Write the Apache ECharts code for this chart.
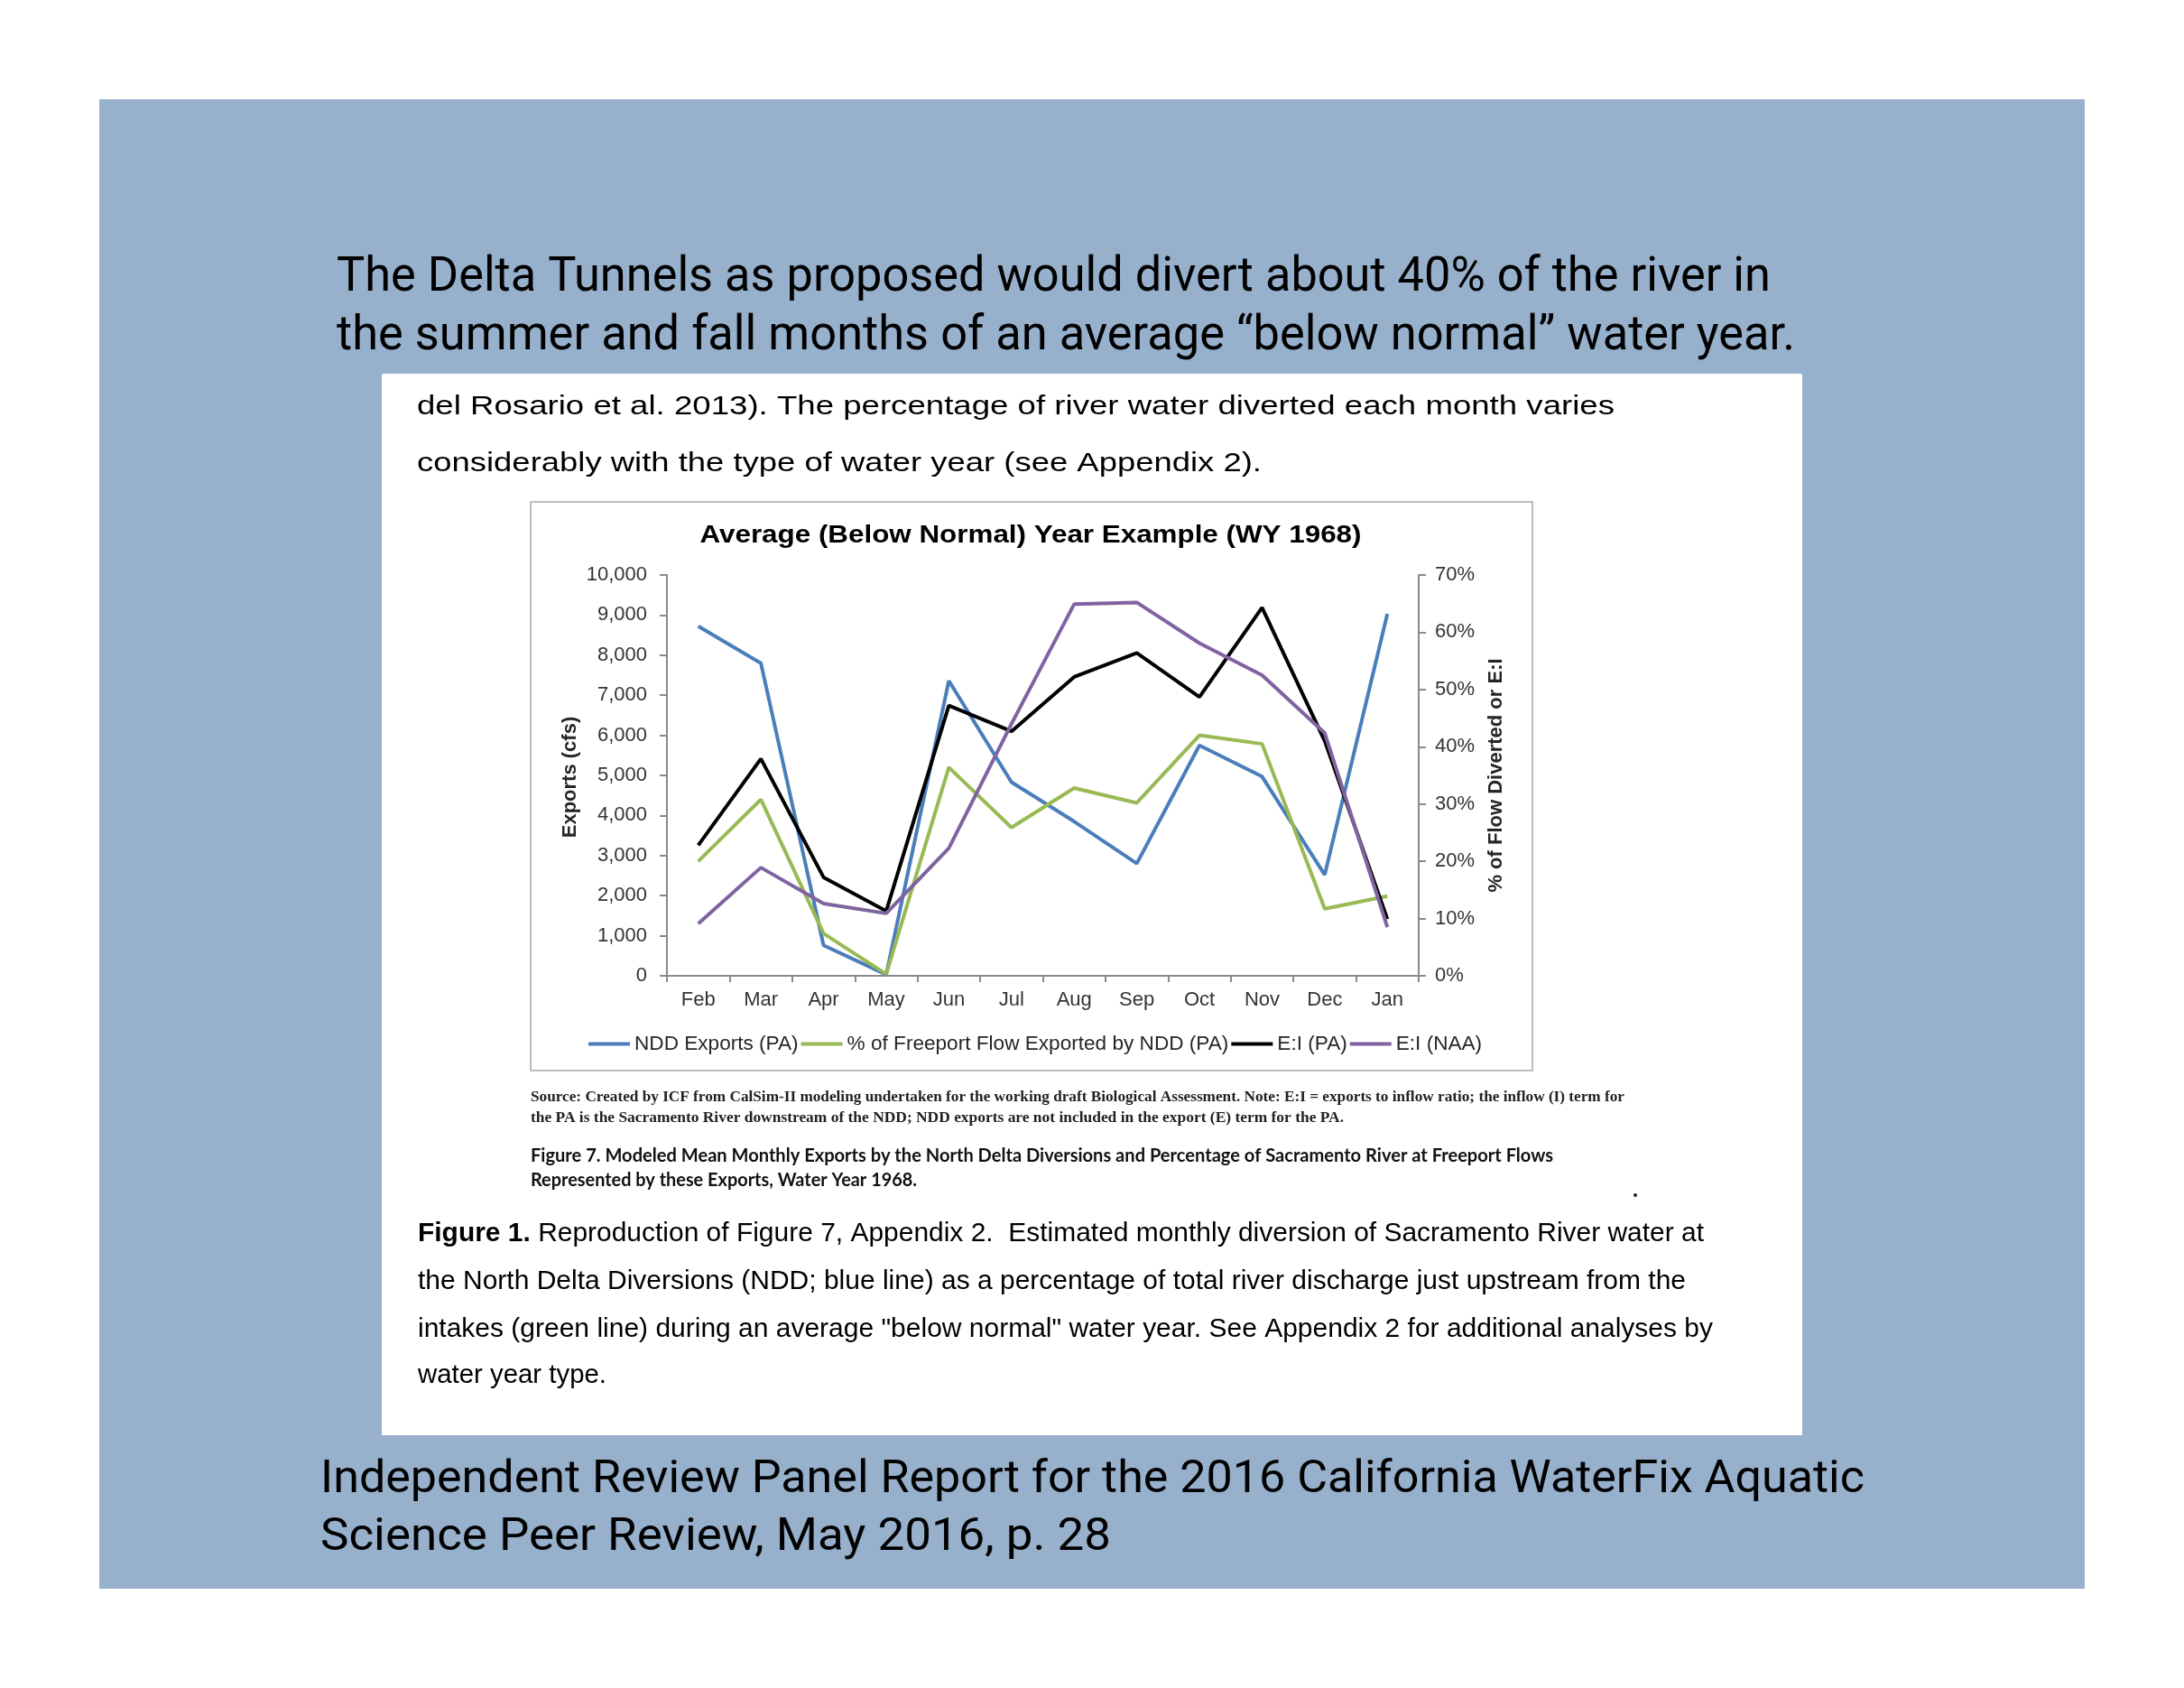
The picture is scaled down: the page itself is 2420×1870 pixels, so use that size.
<!DOCTYPE html>
<html>
<head>
<meta charset="utf-8">
<script src="https://cdn.jsdelivr.net/npm/echarts@6/dist/echarts.min.js"></script>
<style>html,body{margin:0;padding:0;background:#fff;}#c{width:2420px;height:1870px;}</style>
</head>
<body>
<div id="c"></div>
<script>
// ---- data ----
const months = ['Feb','Mar','Apr','May','Jun','Jul','Aug','Sep','Oct','Nov','Dec','Jan'];
const nddExports = [8720, 7800, 760, 30, 7360, 4830, 3850, 2800, 5750, 4970, 2520, 9030];   // cfs
const pctFreeport = [20.0, 30.8, 7.4, 0.3, 36.4, 25.9, 32.8, 30.2, 42.0, 40.5, 11.7, 13.9]; // %
const eiPA = [22.8, 37.9, 17.2, 11.3, 47.2, 42.7, 52.2, 56.4, 48.7, 64.3, 41.0, 9.9];      // %
const eiNAA = [9.1, 18.9, 12.6, 10.9, 22.3, 44.0, 64.9, 65.2, 58.1, 52.5, 42.4, 8.5];      // %
const seriesNames = ['NDD Exports (PA)', '% of Freeport Flow Exported by NDD (PA)', 'E:I (PA)', 'E:I (NAA)'];
const leftAxis = {min: 0, max: 10000, interval: 1000};
const rightAxis = {min: 0, max: 70, interval: 10};

// ---- text helpers ----
const mctx = document.createElement('canvas').getContext('2d');
function measure(font, s) { mctx.font = font; return mctx.measureText(s).width; }
function fitText(s, x, y, font, width, opt) {
  opt = opt || {};
  const w = measure(font, s);
  return {
    type: 'text', x: x, y: y, z: 20, scaleX: width / w,
    style: {text: s, font: font, fill: opt.fill || '#000', align: opt.align || 'left', verticalAlign: 'middle'}
  };
}
function richFit(parts, x, y, width) {
  let w = 0; parts.forEach(p => w += measure(p.font, p.t));
  const rich = {}; let txt = '';
  parts.forEach((p, i) => { rich['p' + i] = {font: p.font, fill: '#000'}; txt += '{p' + i + '|' + p.t + '}'; });
  return {type: 'text', x: x, y: y, z: 20, scaleX: width / w,
    style: {text: txt, rich: rich, align: 'left', verticalAlign: 'middle', fill: '#000'}};
}

const F_TITLE = '53px Roboto';
const F_FOOT = '50px Roboto';
const F_P = '29px "Liberation Sans"';
const F_PB = 'bold 29px "Liberation Sans"';
const F_SRC = 'bold 16px "Liberation Serif"';
const F_CAP = 'bold 20px Lato';
const F_CT = 'bold 28px "Liberation Sans"';
const F_AX = 'bold 22px "Liberation Sans"';

const graphics = [
  {type: 'rect', z: -10, shape: {x: 110, y: 110, width: 2200, height: 1650}, style: {fill: '#97b0cc'}},
  {type: 'rect', z: -9, shape: {x: 423, y: 414, width: 1574, height: 1176}, style: {fill: '#ffffff'}},
  {type: 'rect', z: -8, shape: {x: 588, y: 556, width: 1110, height: 630}, style: {fill: '#ffffff', stroke: '#bdbdbd', lineWidth: 2}},
  fitText('The Delta Tunnels as proposed would divert about 40% of the river in', 373, 309, F_TITLE, 1589),
  fitText('the summer and fall months of an average \u201cbelow normal\u201d water year.', 373, 374, F_TITLE, 1616),
  fitText('Independent Review Panel Report for the 2016 California WaterFix Aquatic', 355, 1640, F_FOOT, 1711),
  fitText('Science Peer Review, May 2016, p. 28', 355, 1704, F_FOOT, 876),
  fitText('del Rosario et al. 2013). The percentage of river water diverted each month varies', 462, 451, F_P, 1327),
  fitText('considerably with the type of water year (see Appendix 2).', 462, 514, F_P, 936),
  fitText('Average (Below Normal) Year Example (WY 1968)', 1142, 593, F_CT, 733, {align: 'center'}),
  fitText('Source: Created by ICF from CalSim-II modeling undertaken for the working draft Biological Assessment. Note: E:I = exports to inflow ratio; the inflow (I) term for', 588, 1216, F_SRC, 1212, {fill: '#222'}),
  fitText('the PA is the Sacramento River downstream of the NDD; NDD exports are not included in the export (E) term for the PA.', 588, 1239, F_SRC, 901, {fill: '#222'}),
  fitText('Figure 7. Modeled Mean Monthly Exports by the North Delta Diversions and Percentage of Sacramento River at Freeport Flows', 588, 1281, F_CAP, 1133, {fill: '#111'}),
  fitText('Represented by these Exports, Water Year 1968.', 588, 1308, F_CAP, 428, {fill: '#111'}),
  richFit([{t: 'Figure 1.', font: F_PB}, {t: ' Reproduction of Figure 7, Appendix 2.  Estimated monthly diversion of Sacramento River water at', font: F_P}], 463, 1367, 1425),
  fitText('the North Delta Diversions (NDD; blue line) as a percentage of total river discharge just upstream from the', 463, 1420, F_P, 1405),
  fitText('intakes (green line) during an average "below normal" water year. See Appendix 2 for additional analyses by', 463, 1473, F_P, 1435),
  fitText('water year type.', 463, 1524, F_P, 209),
  {type: 'circle', z: 20, shape: {cx: 1812, cy: 1324, r: 2}, style: {fill: '#222'}},
  {type: 'text', z: 20, x: 632, y: 861, rotation: Math.PI / 2,
    style: {text: 'Exports (cfs)', font: F_AX, fill: '#262626', align: 'center', verticalAlign: 'middle'}},
  {type: 'text', z: 20, x: 1658, y: 859, rotation: Math.PI / 2,
    style: {text: '% of Flow Diverted or E:I', font: F_AX, fill: '#262626', align: 'center', verticalAlign: 'middle'}}
];

const axisColor = '#8a8a8a';
const labelStyle = {fontFamily: 'Liberation Sans', fontSize: 22, color: '#333333'};

const chart = echarts.init(document.getElementById('c'), null, {renderer: 'canvas', width: 2420, height: 1870});
chart.setOption({
  backgroundColor: '#ffffff',
  animation: false,
  graphic: {elements: graphics},
  grid: {left: 739, top: 637, width: 833, height: 444, containLabel: false},
  legend: {
    left: 647, top: 1140, itemGap: 3, itemWidth: 46, itemHeight: 4, icon: 'rect',
    textStyle: {fontFamily: 'Liberation Sans', fontSize: 22.6, color: '#262626'},
    data: seriesNames
  },
  xAxis: {
    type: 'category', data: months, boundaryGap: true,
    axisLine: {lineStyle: {color: axisColor, width: 2}},
    axisTick: {show: true, length: 7, lineStyle: {color: axisColor, width: 2}},
    axisLabel: Object.assign({margin: 16}, labelStyle)
  },
  yAxis: [
    {
      type: 'value', position: 'left', min: leftAxis.min, max: leftAxis.max, interval: leftAxis.interval,
      axisLine: {show: true, lineStyle: {color: axisColor, width: 2}},
      axisTick: {show: true, length: 8, lineStyle: {color: axisColor, width: 2}},
      splitLine: {show: false},
      axisLabel: Object.assign({margin: 22, formatter: v => v.toLocaleString('en-US')}, labelStyle)
    },
    {
      type: 'value', position: 'right', min: rightAxis.min, max: rightAxis.max, interval: rightAxis.interval,
      axisLine: {show: true, lineStyle: {color: axisColor, width: 2}},
      axisTick: {show: true, length: 8, lineStyle: {color: axisColor, width: 2}},
      splitLine: {show: false},
      axisLabel: Object.assign({margin: 18, formatter: '{value}%'}, labelStyle)
    }
  ],
  series: [
    {name: seriesNames[0], type: 'line', yAxisIndex: 0, data: nddExports, symbol: 'none', z: 3,
      lineStyle: {width: 4, color: '#4a7ebb'}, itemStyle: {color: '#4a7ebb'}},
    {name: seriesNames[1], type: 'line', yAxisIndex: 1, data: pctFreeport, symbol: 'none', z: 4,
      lineStyle: {width: 4, color: '#98b954'}, itemStyle: {color: '#98b954'}},
    {name: seriesNames[2], type: 'line', yAxisIndex: 1, data: eiPA, symbol: 'none', z: 5,
      lineStyle: {width: 4, color: '#000000'}, itemStyle: {color: '#000000'}},
    {name: seriesNames[3], type: 'line', yAxisIndex: 1, data: eiNAA, symbol: 'none', z: 6,
      lineStyle: {width: 4, color: '#7f63a1'}, itemStyle: {color: '#7f63a1'}}
  ]
});
</script>
</body>
</html>
